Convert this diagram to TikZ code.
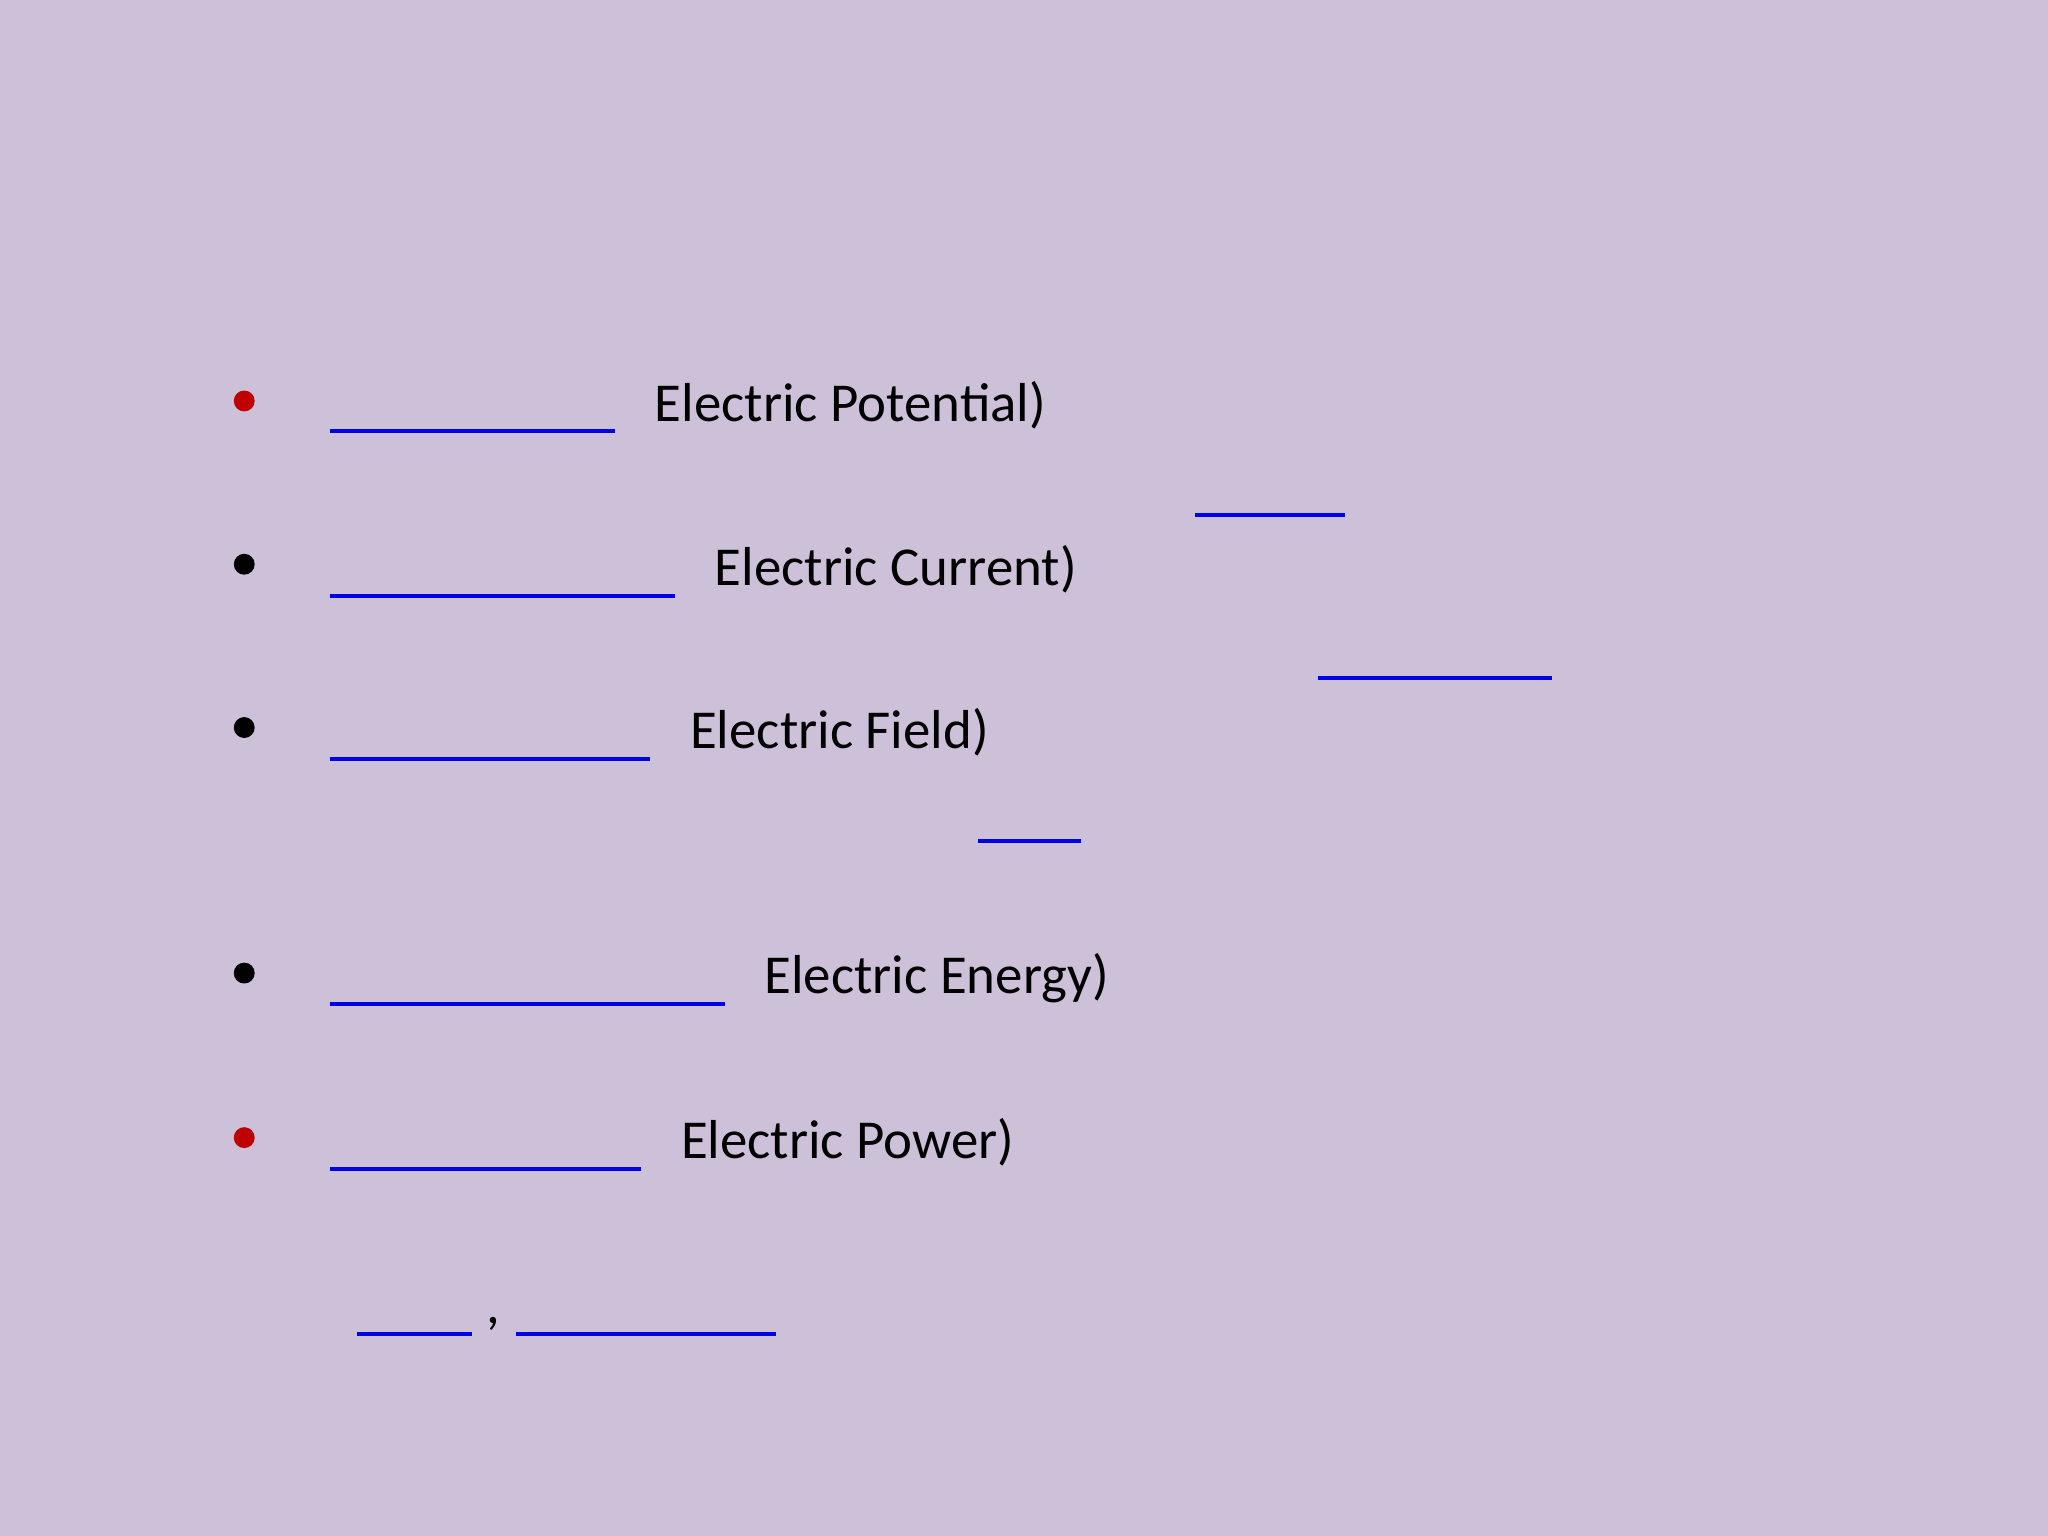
\documentclass[tikz,border=0pt]{standalone}
\usepackage{fontspec}
\setmainfont{Carlito}
\begin{document}
\begin{tikzpicture}[x=0.5pt,y=-0.5pt,
  blank/.style={draw={rgb,255:red,0;green,0;blue,230},line width=1.5pt},
  lbl/.style={anchor=base west,inner sep=0pt,font=\fontsize{21}{25}\selectfont},
  redb/.style={circle,fill={rgb,255:red,192;green,0;blue,0},minimum size=8pt,inner sep=0pt},
  blkb/.style={circle,fill=black,minimum size=8pt,inner sep=0pt}]
\fill[fill={rgb,255:red,205;green,193;blue,217}] (0,0) rectangle (1568,1176);
\useasboundingbox (0,0) rectangle (1568,1176);
\node[redb] (b1) at (187,307) {};
\node[blkb] (b2) at (187,432) {};
\node[blkb] (b3) at (187,557) {};
\node[blkb] (b4) at (187,745) {};
\node[redb] (b5) at (187,871) {};
\draw[blank] (253,330) -- (471,330);
\draw[blank] (915,394) -- (1030,394);
\draw[blank] (253,456) -- (517,456);
\draw[blank] (1009,519) -- (1188,519);
\draw[blank] (253,581) -- (498,581);
\draw[blank] (749,644) -- (828,644);
\draw[blank] (253,769) -- (555,769);
\draw[blank] (253,895) -- (491,895);
\draw[blank] (273,1021) -- (361,1021);
\draw[blank] (395,1021) -- (594,1021);
\node[lbl] (t1) at (501,323) {Electric Potential)};
\node[lbl] (t2) at (547,448) {Electric Current)};
\node[lbl] (t3) at (528,573) {Electric Field)};
\node[lbl] (t4) at (585,761) {Electric Energy)};
\node[lbl] (t5) at (521,887) {Electric Power)};
\node[lbl] (c) at (372,1013) {,};
\end{tikzpicture}
\end{document}
